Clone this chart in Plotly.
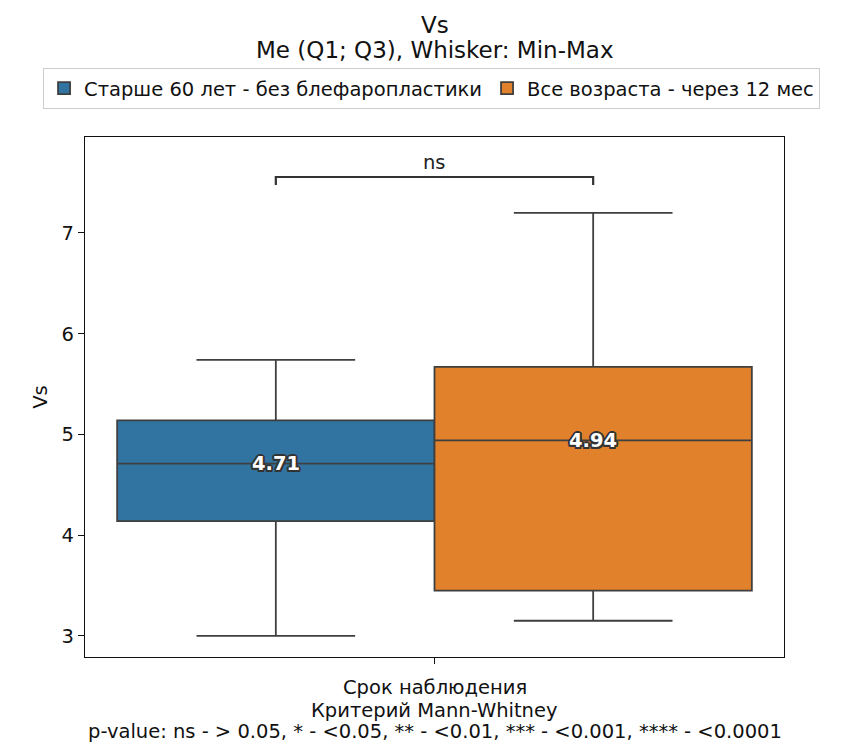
import plotly.graph_objects as go

# ---- data ----
groups = ["Старше 60 лет - без блефаропластики", "Все возраста - через 12 мес"]
mins = [3.00, 3.15]
q1s = [4.14, 3.45]
medians = [4.71, 4.94]
q3s = [5.14, 5.67]
maxs = [5.74, 7.20]
colors = ["#3274a1", "#e1812c"]
positions = [-0.227, 0.227]
y_ticks = [3, 4, 5, 6, 7]
p_label = "ns"
title_lines = ["Vs", "Me (Q1; Q3), Whisker: Min-Max"]
xlabel_lines = ["Срок наблюдения", "Критерий Mann-Whitney",
                "p-value: ns - > 0.05, * - <0.05, ** - <0.01, *** - <0.001, **** - <0.0001"]

FONT = "DejaVu Sans"
FS = 19.5
TFS = 23
LINE = "#3f3f3f"
TXT = "#111"

fig = go.Figure()
outline = ", ".join(f"{dx}px {dy}px 0 #333" for dx, dy in
                    [(-1.5, -1.5), (1.5, -1.5), (-1.5, 1.5), (1.5, 1.5), (0, 2), (0, -2), (2, 0), (-2, 0)])
for g, lo, a, m, b, hi, c, pos in zip(groups, mins, q1s, medians, q3s, maxs, colors, positions):
    fig.add_trace(go.Box(
        name=g, x=[pos], q1=[a], median=[m], q3=[b], lowerfence=[lo], upperfence=[hi],
        width=0.454, whiskerwidth=0.5, fillcolor=c,
        line=dict(color=LINE, width=1.8), boxpoints=False, showlegend=True,
        hoverinfo="skip",
    ))
    fig.add_annotation(x=pos, y=m, text=f"<b>{m:.2f}</b>", showarrow=False,
                       font=dict(family=FONT, size=FS, color="white", shadow=outline))

# significance bracket
top = max(maxs)
yb = top + 0.356
ye = yb - 0.079
fig.add_shape(type="path",
              path=f"M {positions[0]},{ye} L {positions[0]},{yb} L {positions[1]},{yb} L {positions[1]},{ye}",
              line=dict(color="#333", width=2.2))
fig.add_annotation(x=0, y=yb, yshift=1, text=p_label, showarrow=False, yanchor="bottom",
                   font=dict(family=FONT, size=FS, color="#222"))

# title lines
for txt, yp in zip(title_lines, [1.2154, 1.1673]):
    fig.add_annotation(xref="paper", yref="paper", x=0.5, y=yp, yanchor="middle", showarrow=False,
                       text=txt, font=dict(family=FONT, size=TFS, color=TXT))

# x-axis title lines
for txt, yp in zip(xlabel_lines, [-0.0596, -0.1038, -0.1442]):
    fig.add_annotation(xref="paper", yref="paper", x=0.5, y=yp, yanchor="middle", showarrow=False,
                       text=txt, font=dict(family=FONT, size=FS, color=TXT))

fig.update_layout(
    width=858, height=742,
    paper_bgcolor="white", plot_bgcolor="white",
    margin=dict(l=85, r=74, t=137, b=85),
    boxmode="overlay",
    font=dict(family=FONT, size=FS, color=TXT),
    legend=dict(orientation="h", x=-0.06, xanchor="left", y=1.1327, yanchor="top",
                bordercolor="#cccccc", borderwidth=1, font=dict(family=FONT, size=FS),
                traceorder="normal"),
    xaxis=dict(range=[-0.5, 0.5], tickvals=[0], ticktext=[""], ticks="outside", ticklen=6,
               showline=True, mirror=True, linecolor=TXT, linewidth=1.2, showgrid=False,
               zeroline=False, tickcolor=TXT),
    yaxis=dict(range=[2.79, 7.953], tickvals=y_ticks, ticks="outside", ticklen=6,
               showline=True, mirror=True, linecolor=TXT, linewidth=1.2, showgrid=False,
               zeroline=False, tickcolor=TXT,
               title=dict(text="Vs", font=dict(family=FONT, size=FS), standoff=8)),
)

fig.write_html("out.html", config={"displayModeBar": False},
               post_script="document.body.style.margin='0';")
